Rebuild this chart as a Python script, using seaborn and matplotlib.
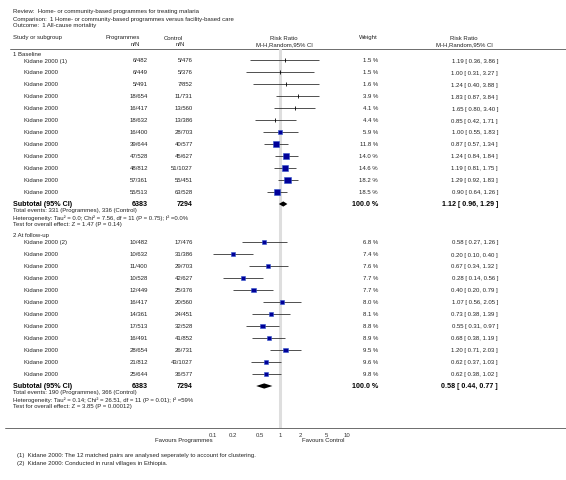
import numpy as np
import pandas as pd
import seaborn as sns
import matplotlib.pyplot as plt

# ---- data ----
ticks = [0.1, 0.2, 0.5, 1, 2, 5, 10]
tick_labels = ["0.1", "0.2", "0.5", "1", "2", "5", "10"]

base_names = ["Kidane 2000 (1)"] + ["Kidane 2000"] * 11
base_prog_ev = [6, 6, 5, 18, 16, 18, 16, 39, 47, 48, 57, 55]
base_prog_n = [482, 449, 491, 654, 417, 632, 400, 644, 528, 812, 361, 513]
base_ctrl_ev = [5, 5, 7, 11, 13, 13, 28, 40, 45, 51, 55, 63]
base_ctrl_n = [476, 376, 852, 731, 560, 386, 703, 577, 627, 1027, 451, 528]
base_weight = [1.5, 1.5, 1.6, 3.9, 4.1, 4.4, 5.9, 11.8, 14.0, 14.6, 18.2, 18.5]
base_rr = [1.19, 1.00, 1.24, 1.83, 1.65, 0.85, 1.00, 0.87, 1.24, 1.19, 1.29, 0.90]
base_lo = [0.36, 0.31, 0.40, 0.87, 0.80, 0.42, 0.55, 0.57, 0.84, 0.81, 0.92, 0.64]
base_hi = [3.86, 3.27, 3.88, 3.84, 3.40, 1.71, 1.83, 1.34, 1.84, 1.75, 1.83, 1.26]
base_total = (6383, 7294, 1.12, 0.96, 1.29)
base_notes = ["Total events: 331 (Programmes), 336 (Control)",
              "Heterogeneity: Tau\u00b2 = 0.0; Chi\u00b2 = 7.56, df = 11 (P = 0.75); I\u00b2 =0.0%",
              "Test for overall effect: Z = 1.47 (P = 0.14)"]

fu_names = ["Kidane 2000 (2)"] + ["Kidane 2000"] * 11
fu_prog_ev = [10, 10, 11, 10, 12, 16, 14, 17, 16, 28, 21, 25]
fu_prog_n = [482, 632, 400, 528, 449, 417, 361, 513, 491, 654, 812, 644]
fu_ctrl_ev = [17, 31, 29, 42, 25, 20, 24, 32, 41, 26, 43, 36]
fu_ctrl_n = [476, 386, 703, 627, 376, 560, 451, 528, 852, 731, 1027, 577]
fu_weight = [6.8, 7.4, 7.6, 7.7, 7.7, 8.0, 8.1, 8.8, 8.9, 9.5, 9.6, 9.8]
fu_rr = [0.58, 0.20, 0.67, 0.28, 0.40, 1.07, 0.73, 0.55, 0.68, 1.20, 0.62, 0.62]
fu_lo = [0.27, 0.10, 0.34, 0.14, 0.20, 0.56, 0.38, 0.31, 0.38, 0.71, 0.37, 0.38]
fu_hi = [1.26, 0.40, 1.32, 0.56, 0.79, 2.05, 1.39, 0.97, 1.19, 2.03, 1.03, 1.02]
fu_total = (6383, 7294, 0.58, 0.44, 0.77)
fu_notes = ["Total events: 190 (Programmes), 366 (Control)",
            "Heterogeneity: Tau\u00b2 = 0.14; Chi\u00b2 = 26.51, df = 11 (P = 0.01); I\u00b2 =59%",
            "Test for overall effect: Z = 3.85 (P = 0.00012)"]

# ---- style ----
sns.set_style("white")
plt.rcParams['font.family'] = ['Liberation Sans', 'DejaVu Sans']
FS = 4.3
TXT = '#222222'

W, H = 566, 481
fig = plt.figure(figsize=(W / 100, H / 100), dpi=100)

# text layer in pixel coordinates
tx = fig.add_axes([0, 0, 1, 1])
tx.set_xlim(0, W)
tx.set_ylim(H, 0)
tx.axis('off')

# forest panel (log scale), 1 -> x=280px, 66.7 px per decade
px_per_dec = 66.7
x_lo, x_hi = 0.02, 50
left_px = 280 + px_per_dec * np.log10(x_lo)
right_px = 280 + px_per_dec * np.log10(x_hi)
top_px, bot_px = 50, 429
fx = fig.add_axes([left_px / W, (H - bot_px) / H, (right_px - left_px) / W, (bot_px - top_px) / H])
fx.set_xscale('log')
fx.set_xlim(x_lo, x_hi)
fx.set_ylim(bot_px, top_px)
fx.patch.set_alpha(0)
for s in fx.spines.values():
    s.set_visible(False)
fx.set_xticks(ticks)
fx.set_xticklabels(tick_labels)
fx.minorticks_off()
fx.set_yticks([])
fx.tick_params(axis='x', direction='out', length=1.5, width=0.5, labelsize=FS,
               pad=1.5, colors='#333333')
fx.axvline(1, color='#dedede', lw=2.2, zorder=0)

# header text
tx.text(13, 12, "Review:  Home- or community-based programmes for treating malaria", fontsize=FS, color=TXT, va='center')
tx.text(13, 19, "Comparison:  1 Home- or community-based programmes versus facility-based care", fontsize=FS, color=TXT, va='center')
tx.text(13, 26, "Outcome:  1 All-cause mortality", fontsize=FS, color=TXT, va='center')

tx.text(13, 38, "Study or subgroup", fontsize=FS, color=TXT, va='center')
tx.text(140, 38, "Programmes", fontsize=FS, color=TXT, va='center', ha='right')
tx.text(140, 45, "n/N", fontsize=FS, color=TXT, va='center', ha='right')
tx.text(183, 38, "Control", fontsize=FS, color=TXT, va='center', ha='right')
tx.text(185, 45, "n/N", fontsize=FS, color=TXT, va='center', ha='right')
tx.text(284, 38, "Risk Ratio", fontsize=FS, color=TXT, va='center', ha='center')
tx.text(284, 45, "M-H,Random,95% CI", fontsize=FS, color=TXT, va='center', ha='center')
tx.text(368, 38, "Weight", fontsize=FS, color=TXT, va='center', ha='center')
tx.text(464, 38, "Risk Ratio", fontsize=FS, color=TXT, va='center', ha='center')
tx.text(464, 45, "M-H,Random,95% CI", fontsize=FS, color=TXT, va='center', ha='center')
tx.plot([10, W], [49.5, 49.5], color='#555555', lw=0.6)
tx.plot([5, W], [429, 429], color='#555555', lw=0.6)


def draw_group(title, y_head, names, pe, pn, ce, cn, wt, rr, lo, hi, total, notes):
    tx.text(13, y_head, title, fontsize=FS, color=TXT, va='center')
    ys = y_head + 7 + 12 * np.arange(len(names))
    for y, nm, a, b, c, d, w, r, l, h in zip(ys, names, pe, pn, ce, cn, wt, rr, lo, hi):
        tx.text(24, y, nm, fontsize=FS, color=TXT, va='center')
        tx.text(148, y, f"{a}/{b}", fontsize=FS, color=TXT, va='center', ha='right')
        tx.text(193, y, f"{c}/{d}", fontsize=FS, color=TXT, va='center', ha='right')
        tx.text(378, y, f"{w:.1f} %", fontsize=FS, color=TXT, va='center', ha='right')
        tx.text(498, y, f"{r:.2f} [ {l:.2f}, {h:.2f} ]", fontsize=FS, color=TXT, va='center', ha='right')
    # confidence intervals
    fx.hlines(ys, lo, hi, color='#333333', lw=0.6, zorder=2)
    df = pd.DataFrame({'rr': rr, 'y': ys, 'w': wt})
    small = df[df['w'] < 5]
    big = df[df['w'] >= 5]
    fx.scatter(small['rr'], small['y'], marker='|', s=8, color='black', lw=0.6, zorder=3)
    sns.scatterplot(data=big, x='rr', y='y', size='w', sizes=(0, 23.3), size_norm=(0, 20),
                    marker='s', color='#000099', edgecolor='#3355cc', linewidth=0.4,
                    legend=False, ax=fx, zorder=4)
    # subtotal
    ys_tot = ys[-1] + 12
    n1, n2, r, l, h = total
    tx.text(13, ys_tot, "Subtotal (95% CI)", fontsize=FS + 0.8, fontweight='bold', color='black', va='center')
    tx.text(148, ys_tot, f"{n1}", fontsize=FS + 0.8, fontweight='bold', color='black', va='center', ha='right')
    tx.text(193, ys_tot, f"{n2}", fontsize=FS + 0.8, fontweight='bold', color='black', va='center', ha='right')
    tx.text(378, ys_tot, "100.0 %", fontsize=FS + 0.8, fontweight='bold', color='black', va='center', ha='right')
    tx.text(498, ys_tot, f"{r:.2f} [ {l:.2f}, {h:.2f} ]", fontsize=FS + 0.8, fontweight='bold',
            color='black', va='center', ha='right')
    fx.fill([l, r, h, r], [ys_tot, ys_tot - 2.6, ys_tot, ys_tot + 2.6], color='black', lw=0, zorder=4)
    for k, note in enumerate(notes):
        tx.text(13, ys_tot + 6 + 7 * k, note, fontsize=FS, color=TXT, va='center')
    return ys_tot + 6 + 7 * (len(notes) - 1)


end1 = draw_group("1 Baseline", 54, base_names, base_prog_ev, base_prog_n, base_ctrl_ev, base_ctrl_n,
                  base_weight, base_rr, base_lo, base_hi, base_total, base_notes)
draw_group("2 At follow-up", end1 + 11, fu_names, fu_prog_ev, fu_prog_n, fu_ctrl_ev, fu_ctrl_n,
           fu_weight, fu_rr, fu_lo, fu_hi, fu_total, fu_notes)

fx.set_xlabel('')
fx.set_ylabel('')

tx.text(184, 441, "Favours Programmes", fontsize=FS, color=TXT, va='center', ha='center')
tx.text(323, 441, "Favours Control", fontsize=FS, color=TXT, va='center', ha='center')

tx.text(17, 456, "(1)  Kidane 2000: The 12 matched pairs are analysed seperately to account for clustering.",
        fontsize=FS, color=TXT, va='center')
tx.text(17, 464, "(2)  Kidane 2000: Conducted in rural villages in Ethiopia.", fontsize=FS, color=TXT, va='center')

fig.savefig("out.png", dpi=100)
